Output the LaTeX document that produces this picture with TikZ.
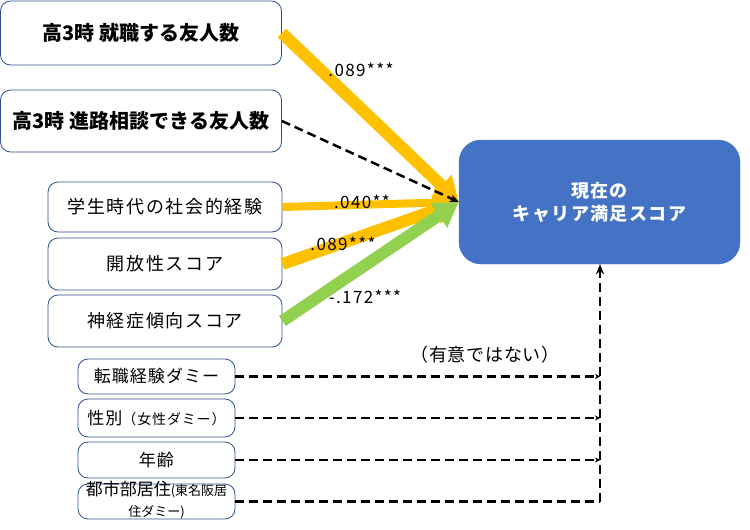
\documentclass[tikz,border=0pt]{standalone}
\usepackage{fontspec}
\setmainfont{Noto Sans CJK JP}
\usetikzlibrary{arrows.meta,positioning,calc}
\definecolor{boxline}{HTML}{2F528F}
\definecolor{goldarrow}{HTML}{FFC000}
\definecolor{greenarrow}{HTML}{92D050}
\definecolor{targetblue}{HTML}{4472C4}
\tikzset{
  srcbox/.style={rectangle, rounded corners=10pt, draw=boxline, line width=0.8pt,
                 fill=white, inner sep=0pt, align=center, text centered},
  bigbox/.style={srcbox, minimum width=281pt, minimum height=#1, font=\fontsize{20}{22}\selectfont\bfseries},
  midbox/.style={srcbox, minimum width=234pt, minimum height=#1, font=\fontsize{18}{20}\selectfont\addfontfeature{LetterSpace=9}},
  smallbox/.style={srcbox, minimum width=157pt, minimum height=#1, font=\fontsize{17}{19}\selectfont\addfontfeature{LetterSpace=6}},
  target/.style={rectangle, rounded corners=22pt, fill=targetblue, draw=targetblue,
                 minimum width=281pt, minimum height=124pt, align=center, text=white,
                 font=\fontsize{18}{23}\selectfont\bfseries\addfontfeature{LetterSpace=8}},
  fatarrow/.style={-{Triangle[length=24pt,width=28pt]}, line width=#1},
  dashline/.style={dashed, dash pattern=on 9pt off 5pt, line width=2.5pt, black},
  lbl/.style={font=\fontsize{17}{19}\selectfont\addfontfeature{LetterSpace=8}, inner sep=1pt},
}

\begin{document}
\begin{tikzpicture}[x=1pt, y=-1pt]
\useasboundingbox (0,0) rectangle (750,530);

% -------------------- Explanatory variables --------------------
\node[bigbox=64pt] (friendjob) at (141,33) {高3時 就職する友人数};
\node[bigbox=62pt] (friendtalk) at (141,121) {高3時 進路相談できる友人数};
\node[midbox=50pt] (social) at (165,207) {学生時代の社会的経験};
\node[midbox=52pt] (openness) at (165,264) {開放性スコア};
\node[midbox=52pt] (neurotic) at (165,321) {神経症傾向スコア};

% -------------------- Control variables --------------------
\node[smallbox=35pt] (jobchange) at (156.5,376.5) {転職経験ダミー};
\node[smallbox=38pt] (gender) at (156.5,418) {性別{\fontsize{14}{16}\selectfont（女性ダミー）}};
\node[smallbox=36pt] (age) at (156.5,460) {年齢};
\node[smallbox=35pt] (urban) at (156.5,501.5) {};
\node[font=\fontsize{17}{21}\selectfont, align=center, inner sep=0pt] at (156.5,500)
    {都市部居住{\fontsize{13}{21}\selectfont(東名阪居}\\{\fontsize{13}{15}\selectfont 住ダミー)}};

% -------------------- Outcome --------------------
\node[target] (career) at (599.5,202) {現在の\\キャリア満足スコア};

% -------------------- Significant paths --------------------
\draw[fatarrow=12pt, goldarrow] (friendjob.east) -- (career.west);
\draw[fatarrow=8pt, goldarrow] (social.east) -- (career.west);
\draw[fatarrow=12pt, goldarrow] (openness.east) -- (career.west);
\draw[fatarrow=12pt, greenarrow] (neurotic.east) -- (career.west);
\draw[dashline, -{Stealth[length=9pt,width=8pt]}] (friendtalk.east) -- (career.west);

\node[lbl] at (361,70) {.089***};
\node[lbl] at (362,202) {.040**};
\node[lbl] at (343,244) {.089***};
\node[lbl] at (365,297) {-.172***};

% -------------------- Non-significant controls --------------------
\coordinate (join) at (600,501.5);
\draw[dashline] (urban.east) -- (join);
\draw[dashline, -{Stealth[length=10pt,width=8pt]}] (join) -- (join |- career.south);
\foreach \v in {jobchange, gender, age}
  \draw[dashline, -{Stealth[length=5pt,width=5pt]}] (\v.east) -- (\v.east -| join);

\node[font=\fontsize{18}{20}\selectfont\addfontfeature{LetterSpace=4}] at (485,355) {（有意ではない）};

\end{tikzpicture}
\end{document}
